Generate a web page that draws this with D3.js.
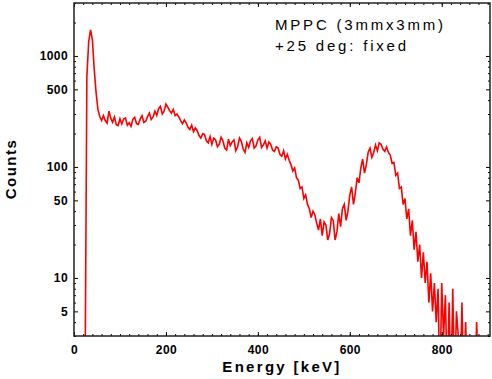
<!DOCTYPE html>
<html lang="en">
<head>
<meta charset="utf-8">
<title>MPPC spectrum</title>
<script src="https://cdn.jsdelivr.net/npm/d3@7"></script>
<style>
  body { margin: 0; background: #fff; }
  text { font-family: "Liberation Sans", Arial, Helvetica, sans-serif; }
  .tick text { font-weight: bold; font-size: 12px; fill: #000; letter-spacing: 0.4px; }
  .domain { display: none; }
  .tick line { stroke: #000; stroke-width: 1; }
</style>
</head>
<body>
<svg id="chart" width="492" height="379"></svg>
<script>
// histogram: first bin energy and bin width in keV
var binStart = 24;
var binWidth = 4;
var counts = [
  0, 650, 1350, 1720, 1400, 760, 470, 330, 285, 262,      // 24 - 60
  290, 262, 248, 318, 275, 252, 282, 240, 236, 272,       // 64 - 100
  244, 270, 276, 238, 250, 232, 268, 280, 246, 242,       // 104 - 140
  270, 290, 252, 258, 284, 305, 268, 282, 318, 292,       // 144 - 180
  335, 352, 300, 318, 368, 345, 322, 305, 330, 290,       // 184 - 220
  300, 282, 262, 245, 265, 250, 228, 218, 238, 208,       // 224 - 260
  225, 212, 192, 182, 200, 196, 172, 165, 188, 160,       // 264 - 300
  182, 176, 152, 160, 185, 172, 148, 142, 178, 155,       // 304 - 340
  168, 175, 140, 152, 182, 170, 145, 135, 165, 150,       // 344 - 380
  172, 180, 148, 155, 175, 185, 150, 158, 172, 148,       // 384 - 420
  168, 160, 142, 138, 152, 148, 130, 125, 140, 118,       // 424 - 460
  130, 115, 105, 92, 98, 80, 76, 64, 66, 52,              // 464 - 500
  56, 46, 42, 35, 40, 37, 31, 27, 34, 24,                 // 504 - 540
  32, 30, 22, 25, 35, 33, 22, 26, 38, 29,                 // 544 - 580
  42, 46, 33, 40, 56, 66, 46, 58, 80, 72,                 // 584 - 620
  98, 118, 88, 105, 136, 148, 122, 135, 158, 140,         // 624 - 660
  165, 160, 145, 138, 152, 135, 128, 108, 110, 84,        // 664 - 700
  88, 64, 66, 46, 52, 34, 42, 24, 33, 18,                 // 704 - 740
  26, 14, 20, 10, 17, 9, 14, 6, 11, 5,                    // 744 - 780
  9, 4, 8, 0, 9, 3, 7, 0, 6, 0,                           // 784 - 820
  8, 0, 5, 3, 0, 6, 0, 4, 0, 0,                           // 824 - 860
  3, 0, 0, 4, 0                                           // 864 - 880
];

var xTicks = [0, 200, 400, 600, 800];
var yTicks = [5, 10, 50, 100, 500, 1000];
var yMinor = [3, 4, 6, 7, 8, 9, 20, 30, 40, 60, 70, 80, 90,
              200, 300, 400, 600, 700, 800, 900, 2000, 3000];
var xMinor = d3.range(0, 905, 20);

var title1 = "MPPC (3mmx3mm)";
var title2 = "+25 deg: fixed";

(function() {
    // note: "top" is taken by window.top, so plot edges get their own names
    var pL = 74, pT = 3, pR = 490, pB = 336;

    var svg = d3.select("#chart");

    var x = d3.scaleLinear().domain([0, 905]).range([pL, pR]);
    var y = d3.scaleLog().domain([3, 3000]).range([pB, pT]);

    var data = counts.map(function(c, i) {
        return {e: binStart + i * binWidth, c: c};
    });

    svg.append("clipPath").attr("id", "plotclip")
        .append("rect")
        .attr("x", pL).attr("y", pT)
        .attr("width", pR - pL).attr("height", pB - pT);

    var line = d3.line()
        .x(function(d) { return x(d.e); })
        .y(function(d) { return y(Math.max(d.c, 1)); });

    svg.append("path")
        .datum(data)
        .attr("clip-path", "url(#plotclip)")
        .attr("d", line)
        .attr("fill", "none")
        .attr("stroke", "#ff0000")
        .attr("stroke-width", 1.6)
        .attr("stroke-linejoin", "miter");

    // axes - ticks point inward like the IDL plot
    svg.append("g").attr("transform", "translate(0," + pB + ")")
        .call(d3.axisBottom(x).tickValues(xTicks).tickSize(-4).tickPadding(9).tickFormat(d3.format("d")));
    svg.append("g").attr("transform", "translate(0," + pB + ")")
        .call(d3.axisBottom(x).tickValues(xMinor).tickSize(-2).tickFormat(""));
    svg.append("g").attr("transform", "translate(0," + pT + ")")
        .call(d3.axisTop(x).tickValues(xTicks).tickSize(-4).tickFormat(""));
    svg.append("g").attr("transform", "translate(0," + pT + ")")
        .call(d3.axisTop(x).tickValues(xMinor).tickSize(-2).tickFormat(""));

    svg.append("g").attr("transform", "translate(" + pL + ",0)")
        .call(d3.axisLeft(y).tickValues(yTicks).tickSize(-4).tickPadding(6).tickFormat(d3.format("d")));
    svg.append("g").attr("transform", "translate(" + pL + ",0)")
        .call(d3.axisLeft(y).tickValues(yMinor).tickSize(-2).tickFormat(""));
    svg.append("g").attr("transform", "translate(" + pR + ",0)")
        .call(d3.axisRight(y).tickValues(yTicks).tickSize(-4).tickFormat(""));
    svg.append("g").attr("transform", "translate(" + pR + ",0)")
        .call(d3.axisRight(y).tickValues(yMinor).tickSize(-2).tickFormat(""));

    svg.append("rect")
        .attr("x", pL).attr("y", pT)
        .attr("width", pR - pL).attr("height", pB - pT)
        .attr("fill", "none")
        .attr("stroke", "#222")
        .attr("stroke-width", 1.5);

    svg.append("text")
        .attr("x", (pL + pR) / 2)
        .attr("y", 372)
        .attr("text-anchor", "middle")
        .attr("font-size", 15)
        .attr("font-weight", "bold")
        .attr("letter-spacing", 2.3)
        .text("Energy [keV]");

    svg.append("text")
        .attr("transform", "translate(16,169) rotate(-90)")
        .attr("text-anchor", "middle")
        .attr("font-size", 15)
        .attr("font-weight", "bold")
        .attr("letter-spacing", 1.5)
        .text("Counts");

    svg.append("text")
        .attr("x", 275).attr("y", 30)
        .attr("font-size", 15)
        .attr("letter-spacing", 2.8)
        .text(title1);
    svg.append("text")
        .attr("x", 275).attr("y", 51)
        .attr("font-size", 15)
        .attr("letter-spacing", 2.8)
        .text(title2);
})();
</script>
</body>
</html>
